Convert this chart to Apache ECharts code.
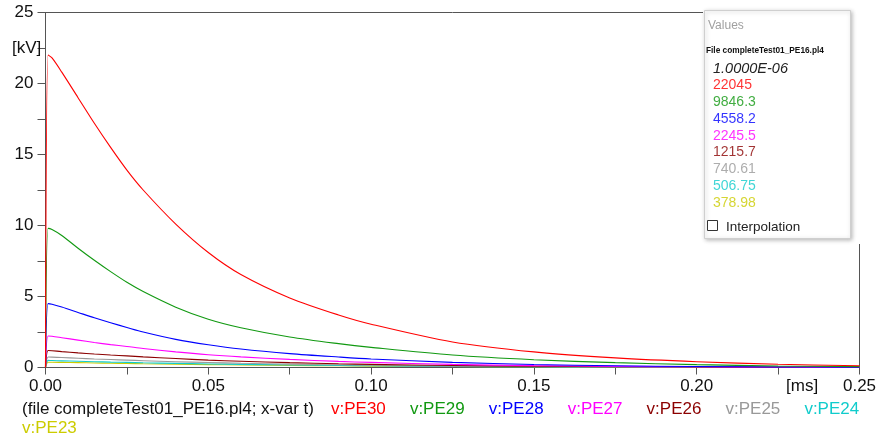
<!DOCTYPE html>
<html>
<head>
<meta charset="utf-8">
<script src="https://cdn.jsdelivr.net/npm/echarts@6/dist/echarts.min.js"></script>
<style>
html,body{margin:0;padding:0;background:#fff;}
#c{width:882px;height:445px;}
</style>
</head>
<body>
<div id="c"></div>
<script>
// ---- data (time in ms, voltage in kV) ----
const times = [0, 0.0008, 0.002, 0.005, 0.01, 0.015, 0.02, 0.025, 0.03, 0.04, 0.05, 0.06, 0.075, 0.09, 0.1, 0.125, 0.15, 0.175, 0.2, 0.225, 0.25];
const pe30 = [0, 22.0, 21.8, 20.8, 19.0, 17.2, 15.5, 13.9, 12.5, 10.1, 8.1, 6.55, 4.9, 3.7, 3.05, 1.8, 1.1, 0.68, 0.41, 0.23, 0.12];
const pe29 = [0, 9.8, 9.72, 9.3, 8.4, 7.55, 6.75, 6.0, 5.35, 4.25, 3.4, 2.8, 2.15, 1.68, 1.42, 0.88, 0.55, 0.34, 0.2, 0.11, 0.06];
const pe28 = [0, 4.5, 4.46, 4.26, 3.88, 3.5, 3.15, 2.82, 2.5, 1.98, 1.6, 1.3, 0.98, 0.74, 0.6, 0.36, 0.21, 0.12, 0.07, 0.04, 0.02];
const pe27 = [0, 2.22, 2.2, 2.1, 1.93, 1.76, 1.61, 1.48, 1.34, 1.1, 0.9, 0.75, 0.57, 0.43, 0.36, 0.22, 0.13, 0.08, 0.05, 0.03, 0.02];
const pe26 = [0, 1.2, 1.18, 1.12, 1.03, 0.95, 0.88, 0.82, 0.75, 0.63, 0.52, 0.44, 0.34, 0.26, 0.22, 0.14, 0.09, 0.06, 0.04, 0.02, 0.01];
const pe25 = [0, 0.74, 0.73, 0.7, 0.65, 0.6, 0.56, 0.52, 0.48, 0.41, 0.35, 0.3, 0.24, 0.19, 0.16, 0.1, 0.07, 0.04, 0.03, 0.02, 0.01];
const pe24 = [0, 0.5, 0.49, 0.47, 0.44, 0.41, 0.38, 0.36, 0.33, 0.29, 0.25, 0.22, 0.18, 0.14, 0.12, 0.08, 0.05, 0.03, 0.02, 0.015, 0.01];
const pe23 = [0, 0.37, 0.37, 0.36, 0.34, 0.32, 0.3, 0.28, 0.26, 0.23, 0.2, 0.18, 0.15, 0.12, 0.1, 0.07, 0.05, 0.03, 0.02, 0.015, 0.01];

const seriesNames = ['v:PE30', 'v:PE29', 'v:PE28', 'v:PE27', 'v:PE26', 'v:PE25', 'v:PE24', 'v:PE23'];
const seriesValues = [pe30, pe29, pe28, pe27, pe26, pe25, pe24, pe23];
const cursorTime = '1.0000E-06';
const cursorValues = ['22045', '9846.3', '4558.2', '2245.5', '1215.7', '740.61', '506.75', '378.98'];
const fileCaption = '(file completeTest01_PE16.pl4; x-var t)';
const fileTitle = 'File completeTest01_PE16.pl4';
const xUnit = '[ms]';
const yUnit = '[kV]';

// ---- styles ----
const colors = ['#ff0000', '#119911', '#0000ff', '#ff00ff', '#8b0000', '#999999', '#11cccc', '#cccc00'];
const FONT = '"Liberation Sans", Arial, sans-serif';

const chart = echarts.init(document.getElementById('c'), null, {renderer: 'canvas'});

const series = seriesNames.map((n, i) => ({
  name: n,
  type: 'line',
  data: times.map((t, k) => [t, seriesValues[i][k]]),
  showSymbol: false,
  smooth: 0.3,
  lineStyle: {width: 1.1, color: colors[i]},
  itemStyle: {color: colors[i]},
  z: 10 - i
}));

const graphic = [];
// cover for the frame behind the value window
graphic.push({type: 'rect', shape: {x: 703, y: 0, width: 179, height: 244}, style: {fill: '#fff'}, z: 100, silent: true});
graphic.push({type: 'rect', shape: {x: 704.5, y: 10.5, width: 146, height: 228}, style: {fill: '#fff', stroke: '#cfcfcf', lineWidth: 1, shadowBlur: 4, shadowOffsetX: 1, shadowOffsetY: 1, shadowColor: 'rgba(0,0,0,0.25)'}, z: 101, silent: true});
graphic.push({type: 'text', x: 708, y: 26, style: {text: 'Values', font: '12px ' + FONT, fill: '#a0a0a0', textVerticalAlign: 'middle'}, z: 102});
graphic.push({type: 'text', x: 706, y: 51, style: {text: fileTitle, font: 'bold 8.3px ' + FONT, fill: '#111', textVerticalAlign: 'middle'}, z: 102});
graphic.push({type: 'text', x: 713, y: 68.5, style: {text: cursorTime, font: 'italic 14.5px ' + FONT, fill: '#222', textVerticalAlign: 'middle'}, z: 102});
cursorValues.forEach((v, i) => {
  graphic.push({type: 'text', x: 713, y: 85.5 + i * 16.75, style: {text: v, font: '14px ' + FONT, fill: colors[i], opacity: 0.8, textVerticalAlign: 'middle'}, z: 102});
});
graphic.push({type: 'rect', shape: {x: 707.5, y: 220.5, width: 10, height: 10}, style: {fill: '#fff', stroke: '#333', lineWidth: 1}, z: 102});
graphic.push({type: 'text', x: 726, y: 227, style: {text: 'Interpolation', font: '13.5px ' + FONT, fill: '#222', textVerticalAlign: 'middle'}, z: 102});

// axis units
graphic.push({type: 'text', x: 12, y: 48, style: {text: yUnit, font: '17px ' + FONT, fill: '#111', textVerticalAlign: 'middle'}, z: 50});
graphic.push({type: 'text', x: 786, y: 386.5, style: {text: xUnit, font: '17px ' + FONT, fill: '#111', textVerticalAlign: 'middle'}, z: 50});

// caption line with series names
graphic.push({type: 'text', x: 22, y: 409, style: {text: fileCaption, font: '17px ' + FONT, fill: '#111', textVerticalAlign: 'middle'}, z: 50});
seriesNames.forEach((n, i) => {
  const x = i < 7 ? 331 + i * 78.9 : 22;
  const y = i < 7 ? 409 : 428;
  graphic.push({type: 'text', x: x, y: y, style: {text: n, font: '17px ' + FONT, fill: colors[i], textVerticalAlign: 'middle'}, z: 50});
});

const option = {
  animation: false,
  backgroundColor: '#fff',
  grid: {left: 45.5, right: 22.5, top: 12.5, bottom: 77.5, show: true, borderColor: '#555', borderWidth: 1, backgroundColor: 'transparent'},
  xAxis: {
    type: 'value', min: 0, max: 0.25, interval: 0.025,
    axisLine: {show: true, lineStyle: {color: '#555', width: 1}},
    axisTick: {show: true, inside: false, length: 7, lineStyle: {color: '#555'}},
    axisLabel: {
      margin: 10, fontSize: 17, color: '#111', fontFamily: FONT,
      formatter: v => (Math.round(v * 1000) % 50 === 0 ? v.toFixed(2) : '')
    },
    splitLine: {show: false}
  },
  yAxis: {
    type: 'value', min: 0, max: 25, interval: 2.5,
    axisLine: {show: true, lineStyle: {color: '#555', width: 1}},
    axisTick: {show: true, inside: false, length: 8, lineStyle: {color: '#555'}},
    axisLabel: {
      margin: 12, fontSize: 17, color: '#111', fontFamily: FONT,
      formatter: v => (Math.round(v * 10) % 50 === 0 ? String(v) : '')
    },
    splitLine: {show: false}
  },
  series: series,
  graphic: graphic
};
chart.setOption(option);
</script>
</body>
</html>
